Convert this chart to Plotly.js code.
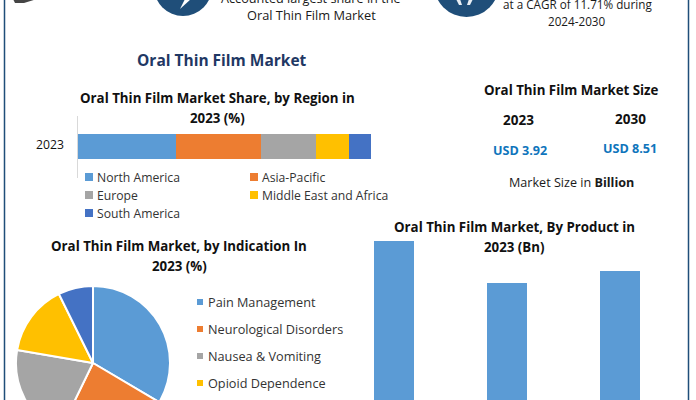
<!DOCTYPE html>
<html><head><meta charset="utf-8">
<script src="https://cdn.plot.ly/plotly-3.0.1.min.js"></script>
<style>html,body{margin:0;padding:0;width:696px;height:400px;overflow:hidden;background:#fff}</style>
</head><body><div id="c"></div>
<script>
const regionYear = ['2023'];
const regionNames = ['North America','Asia-Pacific','Europe','Middle East and Africa','South America'];
const regionValues = [33.5,29,18.8,11.2,7.5];
const regionColors = ['#5b9bd5','#ed7d31','#a5a5a5','#ffc000','#4472c4'];
const indicationNames = ['Pain Management','Neurological Disorders','Nausea & Vomiting','Opioid Dependence','Others'];
const indicationValues = [33.5,23.7,20.5,15,7.3];
const productNames = ['Film A','Film B','Film C'];
const productValues = [1.47,1.19,1.27];
const FONT = 'Open Sans, Noto Sans, sans-serif';
const W = 696, H = 560;
const px = x => x / W, py = y => 1 - y / H;
const ann = (text, x, y, size, color, bold, anchor) => ({
  text: bold ? '<b>' + text + '</b>' : text, x: px(x), y: py(y), xref: 'paper', yref: 'paper',
  showarrow: false, xanchor: anchor || 'center', yanchor: 'middle',
  font: {family: FONT, size: size, color: color || '#1a1a1a'}
});
const traces = regionNames.map((n, i) => ({
  type: 'bar', orientation: 'h', name: n, y: regionYear, x: [regionValues[i]],
  marker: {color: regionColors[i]}, xaxis: 'x', yaxis: 'y', showlegend: false, hoverinfo: 'none', width: 0.62
}));
traces.push({
  type: 'pie', labels: indicationNames, values: indicationValues, sort: false, direction: 'clockwise', rotation: 0,
  textinfo: 'none', showlegend: false, hoverinfo: 'none',
  marker: {colors: regionColors, line: {color: '#fff', width: 2}},
  domain: {x: [px(16), px(170)], y: [py(440), py(286)]}
});
traces.push({
  type: 'bar', x: productNames, y: productValues, marker: {color: '#5b9bd5'},
  xaxis: 'x2', yaxis: 'y2', showlegend: false, hoverinfo: 'none', width: 0.354
});
const annotations = [
  ann('Oral Thin Film Market', 222, 60, 15.5, '#1f3864', true),
  ann('Accounted largest share in the', 311, -2, 12.7),
  ann('Oral Thin Film Market', 311, 15, 12.8),
  ann('at a CAGR of 11.71% during', 577, 4, 11.7),
  ann('2024-2030', 577, 21, 11.7),
  ann('Oral Thin Film Market Share, by Region in', 217, 98, 13.3, '#111', true),
  ann('2023 (%)', 217, 118, 13.3, '#111', true),
  ann('2023', 50, 145, 12.2, '#111'),
  ann('Oral Thin Film Market Size', 571, 90, 13.3, '#111', true),
  ann('2023', 518, 120, 13.5, '#111', true),
  ann('2030', 630, 119, 13.5, '#111', true),
  ann('USD 3.92', 520, 151, 12.6, '#0f75bc', true),
  ann('USD 8.51', 630, 149, 12.6, '#0f75bc', true),
  ann('Market Size in <b>Billion</b>', 571, 183, 12.6, '#1a1a1a'),
  ann('Oral Thin Film Market, by Indication In', 179, 246, 13.3, '#111', true),
  ann('2023 (%)', 179, 266, 13.3, '#111', true),
  ann('Oral Thin Film Market, By Product in', 514, 227, 13.3, '#111', true),
  ann('2023 (Bn)', 514, 247, 13.3, '#111', true)
];
const pathOf = pts => pts.map((p,i) => (i ? 'L' : 'M') + px(p[0]) + ',' + py(p[1])).join(' ') + ' Z';
const paper = {xref:'paper', yref:'paper'};
const shapes = [
  {type:'rect',...paper,x0:px(4.5),x1:px(688.5),y0:py(-10),y1:py(550),line:{color:'#1f4e79',width:1.5},fillcolor:'rgba(0,0,0,0)'},
  {type:'circle',...paper,x0:px(154),x1:px(212),y0:py(-42),y1:py(16),line:{width:0},fillcolor:'#1f4e79'},
  {type:'circle',...paper,x0:px(434),x1:px(499),y0:py(-48),y1:py(17),line:{width:0},fillcolor:'#1f4e79'},
  {type:'path',...paper,path:pathOf([[185,-1],[191,-1],[180,9]]),line:{width:0},fillcolor:'#fff'},
  {type:'path',...paper,path:pathOf([[456,-1],[460,-1],[462,5],[459,5]]),line:{width:0},fillcolor:'#e8eef4'},
  {type:'path',...paper,path:pathOf([[469,-1],[473,-1],[470,5],[467,5]]),line:{width:0},fillcolor:'#e8eef4'},
  {type:'path',...paper,path:pathOf([[13,-1],[37,-1],[24,3],[15,3]]),line:{width:0},fillcolor:'#454545'},
  {type:'line',...paper,x0:px(77.5),x1:px(77.5),y0:py(116),y1:py(178),line:{color:'#d9d9d9',width:1}}
];
const regionLegendPos = [[85,177],[250,177],[85,195],[250,195],[85,213]];
regionNames.forEach((n,i) => {
  const [x,y] = regionLegendPos[i];
  shapes.push({type:'rect',...paper,x0:px(x),x1:px(x+8),y0:py(y-4),y1:py(y+4),line:{width:0},fillcolor:regionColors[i]});
  annotations.push(ann(n, x+10, y, 12.2, '#333', false, 'left'));
});
indicationNames.forEach((n,i) => {
  const y = 302 + 27*i;
  shapes.push({type:'rect',...paper,x0:px(197),x1:px(203),y0:py(y-3),y1:py(y+3),line:{width:0},fillcolor:regionColors[i]});
  annotations.push(ann(n, 206, y, 12.7, '#333', false, 'left'));
});
const layout = {
  width: W, height: H, margin: {l:0,r:0,t:0,b:0}, paper_bgcolor:'#fff', plot_bgcolor:'rgba(0,0,0,0)',
  barmode:'stack', bargap:0, showlegend:false, font:{family:FONT},
  xaxis:{domain:[px(78),px(371)],range:[0,100],visible:false,fixedrange:true},
  yaxis:{domain:[py(167),py(126)],visible:false,fixedrange:true,type:'category',anchor:'x'},
  xaxis2:{domain:[px(337),px(677)],visible:false,range:[-0.5,2.5],fixedrange:true,anchor:'y2',type:'category'},
  yaxis2:{domain:[py(460),py(241)],visible:false,range:[0,1.47],fixedrange:true,anchor:'x2'},
  annotations, shapes
};
Plotly.newPlot('c', traces, layout, {staticPlot:true, displayModeBar:false});
</script></body></html>
